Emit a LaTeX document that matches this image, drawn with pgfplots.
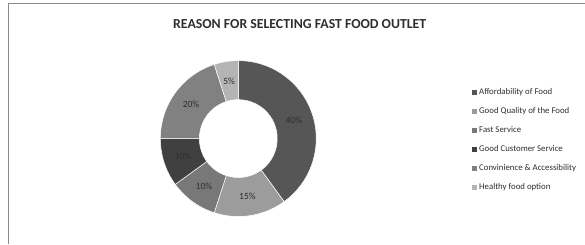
\documentclass[border=0pt]{standalone}
\usepackage{pgfplots}
\pgfplotsset{compat=1.18}
\usepackage{fontspec}
\setmainfont{Carlito}
\definecolor{cA}{HTML}{565656}
\definecolor{cB}{HTML}{9C9C9C}
\definecolor{cC}{HTML}{787878}
\definecolor{cD}{HTML}{404040}
\definecolor{cE}{HTML}{818181}
\definecolor{cF}{HTML}{B4B4B4}
\definecolor{frame}{HTML}{8A8A8A}
\definecolor{txt}{HTML}{2E2E2E}
% start (cumulative %), share (%), colour, label
\newcommand{\slice}[4]{%
  \fill[#3, draw=white, line width=0.5pt, shift={(axis cs:238.5,105.3)}]
    ({90-3.6*#1}:78pt) arc[start angle={90-3.6*#1}, end angle={90-3.6*(#1+#2)}, radius=78pt]
    -- ({90-3.6*(#1+#2)}:39pt) arc[start angle={90-3.6*(#1+#2)}, end angle={90-3.6*#1}, radius=39pt] -- cycle;
  \path[shift={(axis cs:238.5,105.3)}] ({90-3.6*(#1+#2/2)}:58.5pt)
    node[font=\fontsize{9.5}{11}\selectfont, text=txt] {#4\%};
}
\pgfplotsset{sq/.style={legend image code/.code={\fill[##1] (0pt,-2pt) rectangle (4pt,2pt);}}}
\begin{document}
\begin{tikzpicture}
\begin{axis}[
  x=1pt, y=1pt, xmin=0, xmax=585, ymin=0, ymax=244,
  hide axis, clip=false,
  legend style={at={(axis cs:472,156.5)}, anchor=north west, draw=none, fill=none,
    inner sep=0pt, font=\fontsize{8.8}{10}\selectfont, row sep=9.4pt,
    nodes={inner sep=1pt, text=txt}},
  legend cell align=left,
  legend image post style={xshift=-1pt},
]
\path (axis cs:0,0) (axis cs:585,244);
\draw[frame, line width=1pt] (axis cs:9,0) -- (axis cs:9,240) -- (axis cs:585,240);
\node[font=\bfseries\fontsize{13.8}{16}\selectfont, text=txt] at (axis cs:300,220) {REASON FOR SELECTING FAST FOOD OUTLET};
\slice{0}{40}{cA}{40}
\slice{40}{15}{cB}{15}
\slice{55}{10}{cC}{10}
\slice{65}{10}{cD}{10}
\slice{75}{20}{cE}{20}
\slice{95}{5}{cF}{5}
\addlegendimage{sq, cA}\addlegendentry{\hspace{2pt}Affordability of Food}
\addlegendimage{sq, cB}\addlegendentry{\hspace{2pt}Good Quality of the Food}
\addlegendimage{sq, cC}\addlegendentry{\hspace{2pt}Fast Service}
\addlegendimage{sq, cD}\addlegendentry{\hspace{2pt}Good Customer Service}
\addlegendimage{sq, cE}\addlegendentry{\hspace{2pt}Convinience \& Accessibility}
\addlegendimage{sq, cF}\addlegendentry{\hspace{2pt}Healthy food option}
\end{axis}
\end{tikzpicture}
\end{document}
